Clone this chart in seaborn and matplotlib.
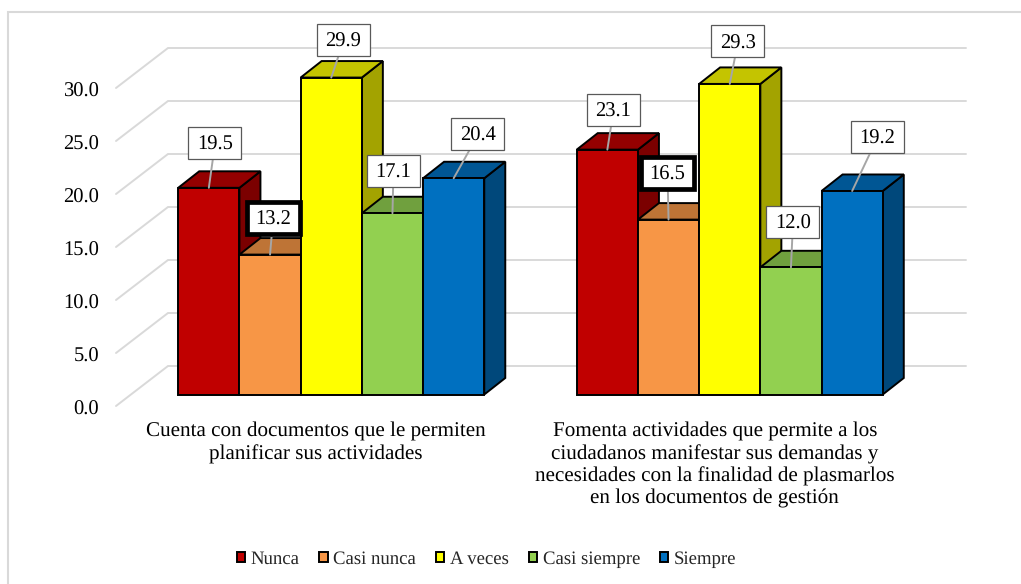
import matplotlib
matplotlib.use("Agg")
import pandas as pd
import seaborn as sns
import matplotlib.pyplot as plt
from matplotlib.lines import Line2D
from matplotlib.patches import Polygon
from matplotlib.path import Path
from matplotlib.transforms import ScaledTranslation

# chart values
preguntas = ["Cuenta con documentos que le permiten\nplanificar sus actividades",
             "Fomenta actividades que permite a los\nciudadanos manifestar sus demandas y\nnecesidades con la finalidad de plasmarlos\nen los documentos de gestión"]
frecuencias = ["Nunca", "Casi nunca", "A veces", "Casi siempre", "Siempre"]
valores_p1 = [19.5, 13.2, 29.9, 17.1, 20.4]
valores_p2 = [23.1, 16.5, 29.3, 12.0, 19.2]
colores = ["#C00000", "#F79646", "#FFFF00", "#92D050", "#0070C0"]
y_ticks = [0, 5, 10, 15, 20, 25, 30]

# label text offset from the top centre of each bar, in pixels (x right, y up)
offsets_p1 = [(6, 45), (3, 37), (12, 38), (1, 43), (24, 45)]
offsets_p2 = [(6, 40), (-1, 47), (8, 43), (2, 46), (25, 55)]
resaltados = ["13.2", "16.5"]

W, H = 1021, 584
sns.set_theme(style="white")
plt.rcParams["font.family"] = ["Liberation Serif", "DejaVu Serif"]
plt.rcParams["text.hinting"] = "none"

df = pd.DataFrame({
    "pregunta": [preguntas[0]] * 5 + [preguntas[1]] * 5,
    "frecuencia": frecuencias * 2,
    "valor": valores_p1 + valores_p2,
})

fig = plt.figure(figsize=(W / 100, H / 100), dpi=100)
# only the left and top edges of the frame show in the picture
fig.add_artist(Line2D([8 / W, 8 / W, 1], [0, 1 - 12 / H, 1 - 12 / H], color="#d9d9d9", lw=1.5,
                      solid_joinstyle="miter", transform=fig.transFigure))

# axes is the front plane of the bars
ax = fig.add_axes([132 / W, 1 - 394.5 / H, 797 / W, 318 / H])
sns.barplot(data=df, x="pregunta", y="valor", hue="frecuencia", palette=colores,
            saturation=1, width=0.768, gap=0, edgecolor="black", linewidth=1.4, ax=ax)
ax.set_xlim(-0.5, 1.5)
ax.set_ylim(0, 30)
ax.set_xlabel("")
ax.set_ylabel("")
sns.despine(ax=ax, left=True, bottom=True)

px_x = 2 / 797  # data units per pixel
px_y = 30 / 318

# back wall grid and the diagonal on the side wall
for t in y_ticks:
    xs = [-0.5 - 16 * px_x, -0.5 + 36 * px_x, 1.5 + 37 * px_x]
    ys = [t - 11.5 * px_y, t + 28.5 * px_y, t + 28.5 * px_y]
    ax.plot(xs, ys, color="#d9d9d9", lw=1.4, clip_on=False, zorder=1, solid_joinstyle="miter")
    ax.annotate(f"{t:.1f}", xy=(-0.5, t), xytext=(-33, -12.5), xycoords="data",
                textcoords="offset pixels", ha="right", va="center_baseline",
                fontsize=14.8, color="black", annotation_clip=False)

ax.set_yticks([])
ax.tick_params(axis="x", length=0, pad=20, labelsize=15.2, colors="black")
for lab in ax.get_xticklabels():
    lab.set_linespacing(1.2)
    lab.set_verticalalignment("top")
    lab.set_transform(lab.get_transform() + ScaledTranslation(-15 / 100, 0, fig.dpi_scale_trans))


def oscurecer(color, f):
    r, g, b = matplotlib.colors.to_rgb(color)
    return (r * f, g * f, b * f)


def caja(x0, y0, width, height, mutation_size):
    # fixed 53x32 px box, centred on the digits and not on the line box
    cx = x0 + width / 2
    cy = y0 + height / 2 + 1.7
    hw, hh = 26.5, 16
    return Path([(cx - hw, cy - hh), (cx + hw, cy - hh), (cx + hw, cy + hh), (cx - hw, cy + hh),
                 (cx - hw, cy - hh)], closed=True)


# depth faces, drawn left to right so nearer bars cover the earlier ones
dx, dy = 21 * px_x, 16.5 * px_y
barras = []
for color, cont in zip(colores, ax.containers):
    for patch in cont:
        barras.append((patch.get_x(), patch, color))
barras.sort(key=lambda b: b[0])

for i, (x0, patch, color) in enumerate(barras):
    w = patch.get_width()
    h = patch.get_height()
    z = 3 + i
    patch.set_zorder(z + 0.5)
    patch.set_clip_on(False)
    top = Polygon([(x0, h), (x0 + dx, h + dy), (x0 + w + dx, h + dy), (x0 + w, h)], closed=True,
                  facecolor=oscurecer(color, 0.77), edgecolor="black", lw=1.4, zorder=z, clip_on=False)
    side = Polygon([(x0 + w, 0), (x0 + w + dx, dy), (x0 + w + dx, h + dy), (x0 + w, h)], closed=True,
                   facecolor=oscurecer(color, 0.64), edgecolor="black", lw=1.4, zorder=z, clip_on=False)
    ax.add_patch(side)
    ax.add_patch(top)

# data labels
offsets = offsets_p1 + offsets_p2
for (x0, patch, color), off in zip(barras, offsets):
    texto = f"{patch.get_height():.1f}"
    grueso = texto in resaltados
    ax.annotate(texto, xy=(x0 + patch.get_width() / 2, patch.get_height()), xytext=off,
                textcoords="offset pixels", ha="center", va="center_baseline", fontsize=14.8,
                color="black", zorder=40, annotation_clip=False,
                bbox=dict(boxstyle=caja, facecolor="white",
                          edgecolor="black" if grueso else "#595959", lw=3.4 if grueso else 0.9),
                arrowprops=dict(arrowstyle="-", color="#a6a6a6", lw=1.4, shrinkA=0, shrinkB=0))

sns.move_legend(ax, loc="center", bbox_to_anchor=(486.5 / W, 1 - 559 / H), bbox_transform=fig.transFigure,
                ncol=5, frameon=False, title=None, fontsize=13.5, handlelength=0.45, handleheight=0.45,
                handletextpad=0.3, columnspacing=1.05, borderpad=0)

fig.savefig("out.png", dpi=100)
